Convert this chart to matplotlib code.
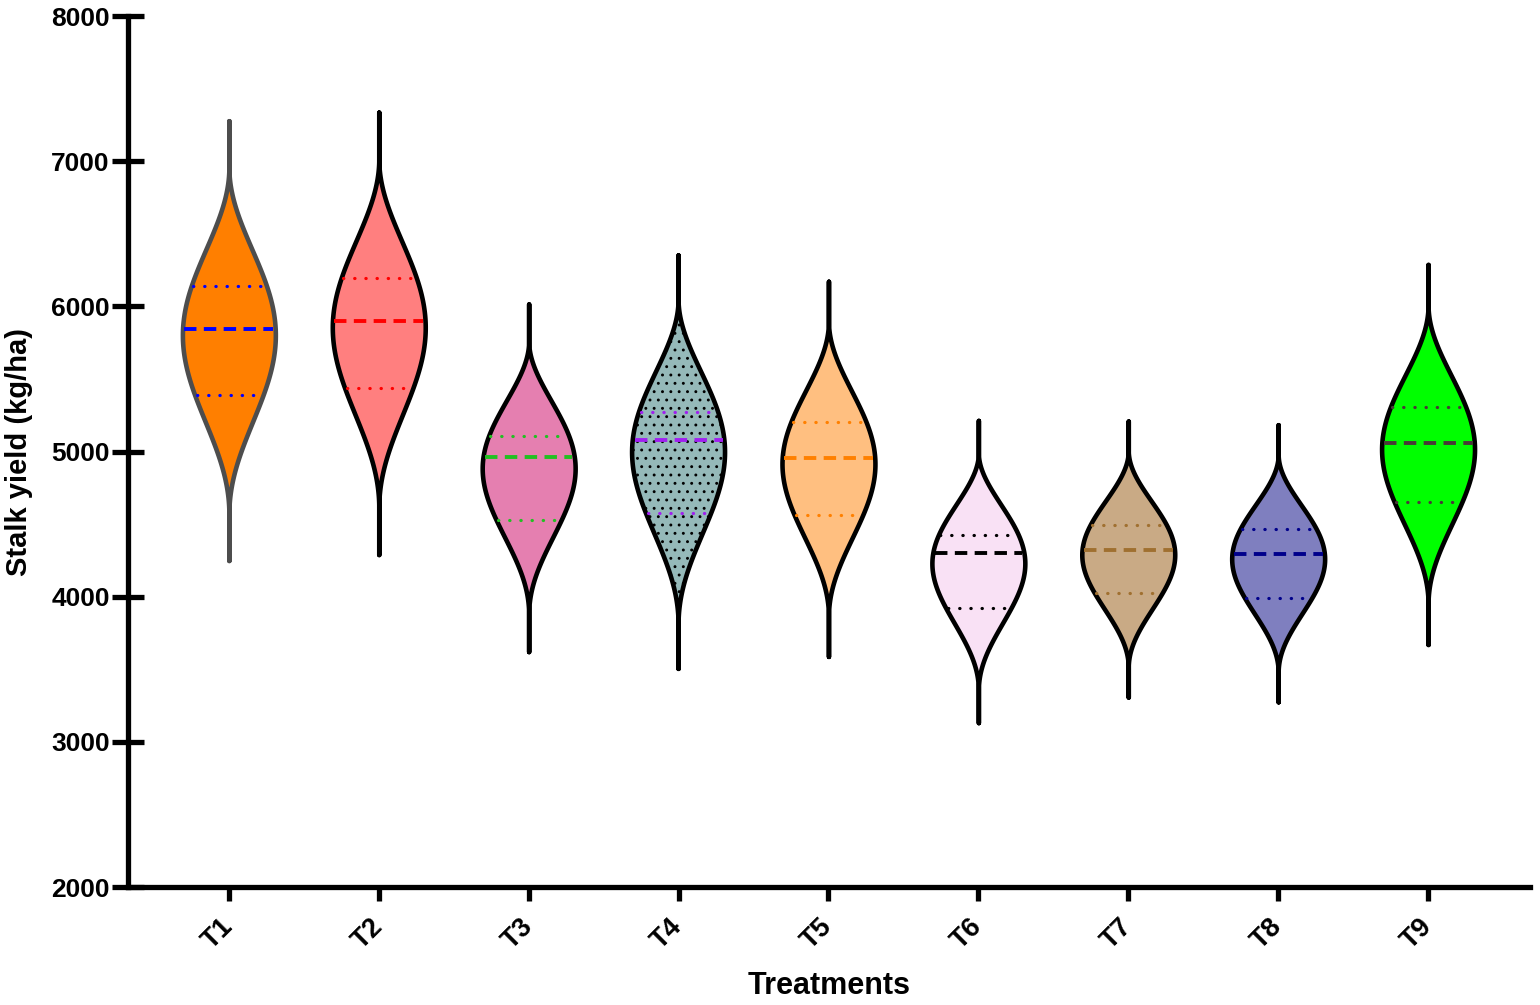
import numpy as np
import matplotlib
matplotlib.use("Agg")
import matplotlib.pyplot as plt
import matplotlib.transforms as mtransforms

plt.rcParams['font.family'] = ['Liberation Sans', 'DejaVu Sans']
plt.rcParams['font.weight'] = 'bold'
plt.rcParams['hatch.linewidth'] = 0.9

# three replicate yields per treatment (kg/ha)
treatments = ['T1', 'T2', 'T3', 'T4', 'T5', 'T6', 'T7', 'T8', 'T9']
t1 = [5388, 5847, 6141]
t2 = [5436, 5902, 6193]
t3 = [4529, 4965, 5110]
t4 = [4579, 5078, 5275]
t5 = [4560, 4954, 5202]
t6 = [3921, 4300, 4426]
t7 = [4024, 4325, 4495]
t8 = [3994, 4295, 4467]
t9 = [4655, 5057, 5305]
yields = [t1, t2, t3, t4, t5, t6, t7, t8, t9]

fill_colors = ['#FF7F00', '#FF7F7F', '#E57FB0', '#95B9B9', '#FFBF80',
               '#F9E1F5', '#C9AA85', '#7F7FBF', '#00FF00']
edge_colors = ['#4D4D4D'] + ['black'] * 8
line_colors = ['#0000FF', '#FF0000', '#22C022', '#A020F0', '#FF8000',
               '#000000', '#A07030', '#00008B', '#4A3838']
hatches = [None, None, None, '..', None, None, None, None, None]

half_width = 0.31
bw_factor = 1.5
body_cut = 2.15  # where the filled body ends (in sd beyond the data)
tail_cut = 3.0   # where the thin tail ends
soft = 0.35      # rounds the body off into the tail


def violin(vals):
    vals = np.asarray(vals, dtype=float)
    sd = vals.std(ddof=1)
    h = bw_factor * sd

    def kde(y):
        return np.exp(-0.5 * ((y[:, None] - vals[None, :]) / h) ** 2).sum(axis=1)

    y = np.linspace(vals.min() - tail_cut * sd, vals.max() + tail_cut * sd, 800)
    lo, hi = vals.min() - body_cut * sd, vals.max() + body_cut * sd
    b_lo, b_hi = kde(np.array([lo, hi]))
    base = b_lo + (y - lo) / (hi - lo) * (b_hi - b_lo)
    x = np.clip(kde(y) - base, 0, None)
    x[(y < lo) | (y > hi)] = 0
    x = x / x.max()
    dens = x ** 2 / (x + soft)
    return y, dens / dens.max() * half_width


fig = plt.figure(figsize=(15.4, 10.05), dpi=100)
ax = fig.add_axes([0.0834, 0.1174, 0.9101, 0.8666])

for i, vals in enumerate(yields):
    pos = i + 1
    y, w = violin(vals)
    ax.fill_betweenx(y, pos - w, pos + w, facecolor=fill_colors[i],
                     edgecolor=edge_colors[i], linewidth=3.3,
                     joinstyle='round', hatch=hatches[i], zorder=2)

    q1, med, q3 = np.percentile(vals, [25, 50, 75], method='weibull')
    for val, kind in [(q1, 'q'), (med, 'm'), (q3, 'q')]:
        hw = np.interp(val, y, w) - 0.012
        if kind == 'm':
            ax.plot([pos - hw, pos + hw], [val, val], color=line_colors[i],
                    lw=2.8, linestyle=(0, (3.2, 1.9)), zorder=3)
        else:
            ax.plot([pos - hw, pos + hw], [val, val], color=line_colors[i],
                    lw=2.3, linestyle=(0, (0.1, 3.4)),
                    dash_capstyle='round', zorder=3)

ax.set_xlim(0.33, 9.68)
ax.set_ylim(2000, 8000)
ax.set_yticks(np.arange(2000, 8001, 1000))
ax.set_xticks(np.arange(1, 10))
ax.set_xticklabels(treatments, rotation=45, ha='right', va='center',
                   rotation_mode='anchor')
offset = mtransforms.ScaledTranslation(10 / 100, 0, fig.dpi_scale_trans)
for lab in ax.get_xticklabels():
    lab.set_transform(lab.get_transform() + offset)

for side in ['top', 'right']:
    ax.spines[side].set_visible(False)
for side in ['left', 'bottom']:
    ax.spines[side].set_linewidth(3.8)
ax.tick_params(axis='y', direction='inout', length=23, width=3.8,
               labelsize=19, pad=2)
ax.tick_params(axis='x', direction='out', length=10, width=3.8,
               labelsize=19.5, pad=16)

ax.set_ylabel('Stalk yield (kg/ha)', fontsize=21, fontweight='bold')
ax.yaxis.set_label_coords(-0.068, 0.5)
ax.set_xlabel('Treatments', fontsize=22, fontweight='bold')
ax.xaxis.set_label_coords(0.5, -0.096)

fig.savefig('out.png', dpi=100)
